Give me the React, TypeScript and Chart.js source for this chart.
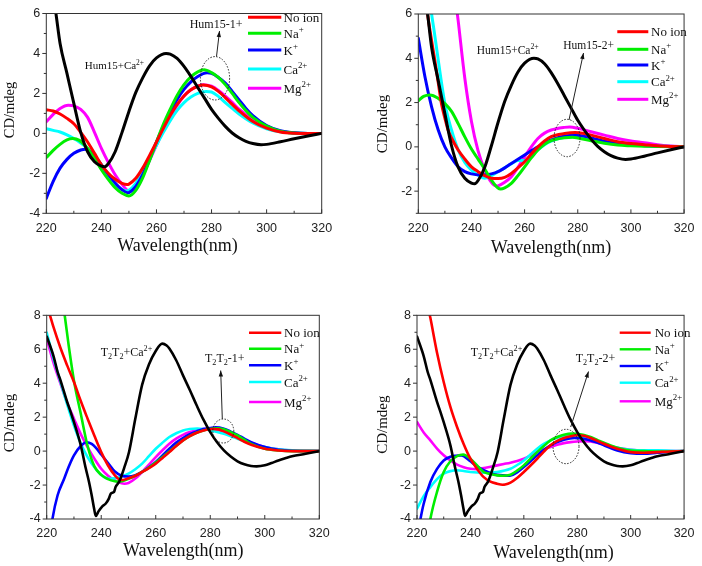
import React, { useEffect, useRef } from "react";
import { Chart, registerables } from "chart.js";

Chart.register(...registerables);

type Pt = [number, number];
type Seg = { t: string; m?: "sup" | "sub" };

// ---------- axis / legend constants ----------
const X_MIN = 220;
const X_MAX = 320;
const X_LABEL_STEP = 20;
const X_MINOR_STEP = 10;
const Y_LABEL_STEP = 2;
const Y_MINOR_STEP = 1;
const LEGEND_LABELS = ["No ion", "Na", "K", "Ca", "Mg"];
const LEGEND_SUPS = ["", "+", "+", "2+", "2+"];
const SERIES_COLORS = ["#ff0000", "#00ee00", "#0000ff", "#00ffff", "#ff00ff"];
const REF_COLOR = "#000000";
const X_TITLE = "Wavelength(nm)";
const Y_TITLE = "CD/mdeg";

// ---------- data: Hum15 (top panels) ----------
const HUM15_CA: Pt[] = [[220,9.5],[222,7.4],[223.5,6.0],[225,4.5],[227.5,3.0],[230,1.5],[232.5,0.05],[235,-0.92],[237.5,-1.42],[240,-1.64],[241.2,-1.67],[242.5,-1.52],[245,-0.92],[247.5,0.05],[250,1.1],[252.5,2.05],[255,2.78],[257.5,3.38],[260,3.78],[263.5,4.0],[265,3.97],[267.5,3.75],[270,3.35],[272.5,2.85],[275,2.3],[277.5,1.75],[280,1.2],[282.5,0.75],[285,0.35],[287.5,0.02],[290,-0.22],[292.5,-0.4],[295,-0.51],[298,-0.57],[300,-0.55],[305,-0.42],[310,-0.27],[315,-0.13],[320,0]];

const P1_NOION: Pt[] = [[220,1.18],[222.5,1.12],[225,0.97],[227.5,0.75],[230,0.48],[232.5,0.05],[235,-0.43],[237.5,-1.0],[240,-1.57],[242.5,-2.0],[245,-2.3],[247.5,-2.5],[249.3,-2.56],[250,-2.54],[252.5,-2.25],[255,-1.74],[257.5,-1.1],[260,-0.43],[262.5,0.25],[265,0.89],[267.5,1.45],[270,1.87],[272.5,2.18],[275,2.36],[277,2.42],[280,2.33],[282.5,2.1],[285,1.79],[287.5,1.45],[290,1.13],[295,0.59],[300,0.26],[305,0.07],[310,0.01],[315,0],[320,0]];
const P1_NA: Pt[] = [[220,-1.21],[222.5,-0.85],[225,-0.55],[227.5,-0.33],[229.5,-0.26],[232,-0.35],[235,-0.75],[237.5,-1.25],[240,-1.82],[242.5,-2.3],[245,-2.72],[247.5,-3.0],[250,-3.13],[252.5,-2.85],[255,-2.23],[257.5,-1.35],[260,-0.43],[262.5,0.45],[265,1.21],[267.5,1.9],[270,2.44],[272.5,2.83],[275,3.08],[277.3,3.18],[280,3.04],[282.5,2.8],[285,2.44],[287.5,2.0],[290,1.54],[292.5,1.14],[295,0.8],[300,0.36],[305,0.11],[310,0.02],[315,0],[320,0]];
const P1_K: Pt[] = [[220,-3.25],[222.5,-2.4],[225,-1.74],[227.5,-1.3],[230,-1.0],[232.5,-0.83],[234.2,-0.79],[236,-0.9],[238,-1.2],[240,-1.57],[242.5,-2.05],[245,-2.48],[247.5,-2.82],[249.5,-2.97],[250,-2.96],[252.5,-2.65],[255,-2.07],[257.5,-1.3],[260,-0.43],[262.5,0.35],[265,1.05],[267.5,1.7],[270,2.2],[272.5,2.58],[275,2.85],[278.4,3.03],[280,3.0],[282.5,2.8],[285,2.52],[287.5,2.1],[290,1.67],[292.5,1.25],[295,0.89],[300,0.39],[305,0.13],[310,0.03],[315,0],[320,0]];
const P1_CA: Pt[] = [[220,0.23],[222.5,0.15],[225,0.07],[227.5,-0.07],[230,-0.26],[232.5,-0.48],[235,-0.75],[237.5,-1.2],[240,-1.74],[242.5,-2.2],[245,-2.56],[247.5,-2.8],[249,-2.88],[250,-2.85],[252.5,-2.5],[255,-1.9],[257.5,-1.25],[260,-0.59],[262.5,0.05],[265,0.64],[267.5,1.15],[270,1.54],[272.5,1.82],[275,2.0],[278,2.1],[280,2.07],[282.5,1.85],[285,1.54],[287.5,1.25],[290,0.97],[295,0.52],[300,0.23],[305,0.08],[310,0.02],[315,0],[320,0]];
const P1_MG: Pt[] = [[220,0.59],[222.5,0.95],[225,1.25],[228,1.41],[230,1.38],[232.5,1.2],[235,0.8],[237.5,0.05],[240,-0.75],[242.5,-1.45],[245,-2.07],[247.5,-2.55],[250,-2.88],[252.5,-2.75],[255,-2.1],[257.5,-1.35],[260,-0.59],[262.5,0.15],[265,0.8],[267.5,1.4],[270,1.87],[272.5,2.18],[275,2.36],[277,2.44],[280,2.36],[282.5,2.15],[285,1.87],[287.5,1.55],[290,1.21],[295,0.69],[300,0.31],[305,0.1],[310,0.02],[315,0],[320,0]];

const P2_NOION: Pt[] = [[220,10],[222,7.6],[223.5,6.0],[225,4.8],[226.2,3.92],[227.5,2.9],[228.7,1.96],[230,1.3],[231.2,0.76],[232.5,0.4],[235,-0.14],[237.5,-0.55],[240,-0.9],[242.5,-1.12],[245,-1.3],[247.5,-1.42],[250,-1.43],[252.5,-1.38],[255,-1.2],[257.5,-0.95],[260,-0.67],[262.5,-0.32],[265,0.0],[267.5,0.27],[270,0.46],[275,0.6],[279,0.65],[282.5,0.6],[285,0.53],[290,0.38],[295,0.23],[300,0.15],[305,0.1],[310,0.05],[315,0.02],[320,0]];
const P2_NA: Pt[] = [[220,2.08],[222,2.28],[224.4,2.34],[227.5,2.19],[230,1.95],[232.5,1.6],[235,1.05],[237.5,0.45],[240,-0.1],[242.5,-0.55],[245,-1.0],[247.5,-1.5],[250,-1.86],[251,-1.9],[252.5,-1.85],[255,-1.65],[257.5,-1.3],[260,-0.9],[262.5,-0.5],[265,-0.14],[267.5,0.12],[270,0.28],[275,0.41],[278,0.43],[280,0.4],[285,0.28],[290,0.16],[295,0.08],[300,0.05],[305,0.03],[310,0.02],[320,0]];
const P2_K: Pt[] = [[220,4.9],[222.5,3.17],[225,1.81],[227.5,0.76],[230,0.0],[232.5,-0.5],[235,-0.9],[237.5,-1.12],[240,-1.22],[243,-1.27],[245,-1.26],[247.5,-1.22],[250,-1.12],[255,-0.75],[260,-0.37],[265,0.0],[270,0.31],[275,0.49],[279,0.53],[282.5,0.48],[285,0.4],[290,0.26],[295,0.15],[300,0.1],[310,0.03],[320,0]];
const P2_CA: Pt[] = [[220,11],[222.5,8.3],[225,6.0],[226,5.2],[227.5,3.92],[230,1.96],[232.5,0.76],[235,-0.14],[237.5,-0.7],[240,-1.05],[242.5,-1.28],[245,-1.42],[247.5,-1.3],[250,-1.12],[252.5,-0.95],[255,-0.76],[257.5,-0.62],[260,-0.62],[262.5,-0.42],[265,-0.14],[267.5,0.1],[270,0.26],[275,0.43],[279,0.46],[282.5,0.4],[285,0.34],[290,0.23],[295,0.15],[300,0.1],[310,0.04],[320,0]];
const P2_MG: Pt[] = [[220,24],[225,18],[230,11.5],[232.5,8.5],[234.7,6.0],[235,5.7],[237.5,3.1],[240,1.15],[242.5,-0.18],[245,-1.05],[247.5,-1.6],[249.5,-1.77],[250,-1.76],[252.5,-1.6],[255,-1.35],[257.5,-0.92],[260,-0.45],[262.5,0.0],[265,0.38],[267.5,0.62],[270,0.76],[275,0.88],[277,0.9],[280,0.84],[285,0.68],[290,0.53],[295,0.38],[300,0.27],[305,0.19],[310,0.1],[315,0.04],[320,0]];

// ---------- data: T2T2 (bottom panels) ----------
const T2T2_CA: Pt[] = [[220,6.75],[222.5,5.6],[224,4.66],[225,4.2],[227.5,2.9],[228.8,2.3],[230,1.7],[232.5,0.34],[234.3,-1.0],[235.5,-1.8],[236.5,-2.6],[237.4,-3.4],[238,-3.82],[239,-3.55],[240.4,-3.25],[241.6,-3.1],[242.8,-2.8],[243.5,-2.5],[244.7,-2.4],[245.3,-2.1],[246.6,-1.8],[248.4,-1.0],[250.2,-0.05],[252.5,1.9],[255,3.9],[257.5,5.1],[260,5.9],[262.4,6.33],[264,6.22],[265,6.04],[267.5,5.35],[270,4.46],[272.5,3.6],[275,2.7],[277.5,1.85],[280,1.12],[282.5,0.52],[285,0.04],[287.5,-0.32],[290,-0.6],[292.5,-0.78],[295,-0.88],[297,-0.9],[300,-0.84],[302.5,-0.7],[305,-0.55],[307.5,-0.42],[310,-0.3],[315,-0.16],[320,0]];

const P3_NOION: Pt[] = [[220,8.6],[221.2,8.0],[222.5,7.3],[225,6.1],[227.5,5.05],[230,4.07],[232.5,2.95],[235,1.91],[237.5,0.9],[240,-0.06],[242.5,-0.85],[245,-1.43],[246.5,-1.65],[248,-1.7],[250,-1.6],[252.5,-1.45],[255,-1.23],[257.5,-1.0],[260,-0.74],[262.5,-0.4],[265,-0.06],[267.5,0.3],[270,0.63],[272.5,0.88],[275,1.08],[277.5,1.22],[281,1.3],[283,1.28],[285,1.16],[287.5,0.98],[290,0.77],[292.5,0.55],[295,0.37],[300,0.14],[305,0.04],[310,0],[320,0]];
const P3_NA: Pt[] = [[220,15],[222.5,12.2],[225,9.7],[226.6,8.0],[228,6.3],[230,4.15],[232.5,2.2],[235,0.3],[237.5,-0.9],[240,-1.4],[242.5,-1.65],[245,-1.78],[246,-1.8],[247.5,-1.77],[250,-1.63],[252.5,-1.45],[255,-1.23],[257.5,-0.97],[260,-0.68],[262.5,-0.35],[265,-0.02],[267.5,0.32],[270,0.63],[272.5,0.88],[275,1.08],[277.5,1.22],[280,1.3],[282.6,1.34],[285,1.28],[287.5,1.12],[290,0.92],[292.5,0.67],[295,0.43],[300,0.14],[305,0.04],[310,0],[320,0]];
const P3_K: Pt[] = [[220,-6.5],[222.1,-4.0],[224,-2.6],[226.4,-1.63],[228,-0.95],[230,-0.25],[232.5,0.3],[234.7,0.52],[236.5,0.42],[238,0.2],[240,-0.2],[242.5,-0.7],[245,-1.2],[247.5,-1.45],[250,-1.5],[252.5,-1.42],[255,-1.23],[257.5,-0.95],[260,-0.64],[262.5,-0.25],[265,0.14],[267.5,0.5],[270,0.77],[272.5,1.0],[275,1.16],[277.5,1.3],[280,1.36],[282,1.4],[285,1.32],[287.5,1.15],[290,0.96],[292.5,0.74],[295,0.53],[300,0.24],[305,0.08],[310,0.02],[320,0]];
const P3_CA: Pt[] = [[220,6.98],[222.5,5.45],[225,4.1],[227.5,2.75],[230,1.5],[232.5,0.45],[235,-0.35],[237.5,-0.95],[240,-1.4],[242.9,-1.63],[245,-1.6],[247.5,-1.5],[250,-1.33],[252.5,-1.07],[255,-0.74],[257.5,-0.3],[260,0.14],[262.5,0.5],[265,0.83],[267.5,1.05],[270,1.22],[272.5,1.3],[275.3,1.33],[277.5,1.3],[280,1.22],[282.5,1.13],[285,1.02],[287.5,0.88],[290,0.73],[292.5,0.58],[295,0.43],[300,0.24],[305,0.1],[310,0.04],[320,0]];
const P3_MG: Pt[] = [[220,6.62],[222.5,5.2],[225,4.0],[227.5,2.85],[230,1.91],[232.5,1.0],[235,0.24],[237.5,-0.45],[240,-1.04],[242.5,-1.45],[245,-1.73],[247.5,-1.9],[248.5,-1.92],[250,-1.88],[252.5,-1.62],[255,-1.23],[257.5,-0.8],[260,-0.35],[262.5,0.05],[265,0.43],[267.5,0.73],[270,0.96],[272.5,1.12],[275,1.22],[278,1.32],[280,1.31],[282.5,1.25],[285,1.16],[287.5,1.0],[290,0.83],[292.5,0.66],[295,0.49],[300,0.24],[305,0.1],[310,0.03],[320,0]];

const P4_NOION: Pt[] = [[220,11.8],[222.5,9.8],[224.8,8.0],[225,7.85],[227.5,5.8],[230,4.07],[232.5,2.6],[235,1.42],[237.5,0.4],[240,-0.45],[242.5,-1.05],[245,-1.53],[247.5,-1.8],[250,-1.92],[252,-1.98],[253,-1.97],[255,-1.86],[257.5,-1.58],[260,-1.23],[262.5,-0.85],[265,-0.45],[267.5,-0.03],[270,0.34],[272.5,0.6],[275,0.77],[277.5,0.88],[280,0.93],[282.5,0.9],[285,0.77],[287.5,0.6],[290,0.43],[292.5,0.27],[295,0.14],[300,-0.06],[305,-0.1],[310,-0.06],[315,-0.02],[320,0]];
const P4_NA: Pt[] = [[220,-9.5],[222.5,-6.5],[225,-4.0],[227.5,-2.4],[230,-1.23],[232.5,-0.6],[235,-0.3],[237.3,-0.21],[240,-0.45],[242.5,-0.85],[245,-1.23],[247.5,-1.35],[250,-1.43],[252,-1.45],[255,-1.39],[257.5,-1.15],[260,-0.84],[262.5,-0.45],[265,-0.06],[267.5,0.3],[270,0.63],[272.5,0.83],[275,0.96],[278,1.03],[280,1.02],[282.5,0.95],[285,0.83],[287.5,0.66],[290,0.49],[292.5,0.33],[295,0.2],[300,0.04],[305,0],[310,-0.02],[320,0]];
const P4_K: Pt[] = [[220,-5.2],[221.3,-4.0],[222.5,-3.1],[225,-1.82],[227.5,-1.05],[230,-0.55],[232.5,-0.33],[234.5,-0.27],[236.6,-0.25],[238,-0.35],[240,-0.6],[242.5,-0.9],[245,-1.13],[247.5,-1.3],[250,-1.4],[254.4,-1.45],[255,-1.44],[257.5,-1.25],[260,-0.94],[262.5,-0.6],[265,-0.25],[267.5,0.08],[270,0.34],[272.5,0.53],[275,0.67],[279,0.77],[280,0.76],[282.5,0.72],[285,0.63],[287.5,0.5],[290,0.34],[292.5,0.18],[295,0.04],[300,-0.12],[305,-0.16],[310,-0.1],[315,-0.04],[320,0]];
const P4_CA: Pt[] = [[220,-3.39],[222.5,-2.65],[225,-2.12],[227.5,-1.65],[230,-1.33],[232.5,-1.18],[235,-1.13],[237.5,-1.17],[240,-1.23],[245,-1.27],[250,-1.23],[255,-1.04],[257.5,-0.82],[260,-0.55],[262.5,-0.2],[265,0.14],[267.5,0.42],[270,0.63],[272.5,0.78],[275,0.87],[277.6,0.89],[280,0.87],[282.5,0.8],[285,0.69],[287.5,0.56],[290,0.43],[292.5,0.3],[295,0.2],[300,0.08],[305,0.04],[310,0.04],[315,0.02],[320,0]];
const P4_MG: Pt[] = [[220,1.71],[222.5,1.1],[225,0.63],[227.5,0.15],[230,-0.25],[232.5,-0.55],[235,-0.8],[237.5,-0.95],[240,-1.04],[242.2,-1.06],[245,-1.0],[247.5,-0.92],[250,-0.84],[252.5,-0.76],[255,-0.68],[257.5,-0.58],[260,-0.45],[262.5,-0.27],[265,-0.06],[267.5,0.1],[270,0.24],[272.5,0.37],[275,0.47],[277.5,0.53],[280,0.57],[282.5,0.59],[285,0.57],[287.5,0.49],[290,0.39],[295,0.2],[300,0.08],[305,0.02],[310,0],[320,0]];

// ---------- annotation texts ----------
const HUM_CA_TEXT: Seg[] = [{ t: "Hum15+Ca" }, { t: "2+", m: "sup" }];
const HUM_1_TEXT: Seg[] = [{ t: "Hum15-1+" }];
const HUM_2_TEXT: Seg[] = [{ t: "Hum15-2+" }];
const T_CA_TEXT: Seg[] = [{ t: "T" }, { t: "2", m: "sub" }, { t: "T" }, { t: "2", m: "sub" }, { t: "+Ca" }, { t: "2+", m: "sup" }];
const T_1_TEXT: Seg[] = [{ t: "T" }, { t: "2", m: "sub" }, { t: "T" }, { t: "2", m: "sub" }, { t: "-1+" }];
const T_2_TEXT: Seg[] = [{ t: "T" }, { t: "2", m: "sub" }, { t: "T" }, { t: "2", m: "sub" }, { t: "-2+" }];

const SERIF = '"Liberation Serif", "Times New Roman", serif';
const SANS = '"Liberation Sans", Arial, sans-serif';

interface Spec {
  ox: number; oy: number; w: number; h: number;
  box: { l: number; r: number; t: number; b: number };
  ymin: number; ymax: number;
  lineW: number;
  ref: Pt[];
  series: Pt[][];
  yTitle: { x: number; y: number; size: number };
  xTitle: { x: number; y: number; size: number };
  legend: { x1: number; x2: number; tx: number; rows: number[]; size: number; lw: number };
  caText: { x: number; y: number; size: number; segs: Seg[] };
  tagText: { x: number; y: number; size: number; segs: Seg[] };
  ellipse: { cx: number; cy: number; rx: number; ry: number };
  arrow: [number, number, number, number];
}

const SPECS: Spec[] = [
  {
    ox: 0, oy: 0, w: 351, h: 283,
    box: { l: 46.3, r: 321.7, t: 9.3, b: 213.3 },
    ymin: -4, ymax: 6, lineW: 3,
    ref: HUM15_CA, series: [P1_NOION, P1_NA, P1_K, P1_CA, P1_MG],
    yTitle: { x: 10, y: 110, size: 14.5 },
    xTitle: { x: 177.5, y: 246.7, size: 18 },
    legend: { x1: 248, x2: 281.3, tx: 283.5, rows: [17.3, 33.3, 50, 69, 88.3], size: 13, lw: 3 },
    caText: { x: 84.7, y: 69.3, size: 11, segs: HUM_CA_TEXT },
    tagText: { x: 189.7, y: 28.3, size: 12, segs: HUM_1_TEXT },
    ellipse: { cx: 215, cy: 78.3, rx: 14.6, ry: 21.7 },
    arrow: [216.5, 56.5, 219.5, 31],
  },
  {
    ox: 351, oy: 0, w: 351, h: 283,
    box: { l: 418.3, r: 686, t: 14, b: 213.3 },
    ymin: -3, ymax: 6, lineW: 3,
    ref: HUM15_CA, series: [P2_NOION, P2_NA, P2_K, P2_CA, P2_MG],
    yTitle: { x: 382.7, y: 124, size: 15 },
    xTitle: { x: 551, y: 248, size: 18 },
    legend: { x1: 617.3, x2: 648.3, tx: 651, rows: [31.7, 49.3, 65, 81.7, 99.3], size: 13, lw: 3 },
    caText: { x: 476.7, y: 54, size: 11.5, segs: HUM_CA_TEXT },
    tagText: { x: 563.3, y: 49.3, size: 11.5, segs: HUM_2_TEXT },
    ellipse: { cx: 567, cy: 138, rx: 13, ry: 18.7 },
    arrow: [569, 120, 583.5, 53],
  },
  {
    ox: 0, oy: 283, w: 351, h: 283,
    box: { l: 46.7, r: 319.3, t: 315.3, b: 519 },
    ymin: -4, ymax: 8, lineW: 2.6,
    ref: T2T2_CA, series: [P3_NOION, P3_NA, P3_K, P3_CA, P3_MG],
    yTitle: { x: 10, y: 423, size: 15 },
    xTitle: { x: 183.3, y: 551, size: 18 },
    legend: { x1: 249, x2: 281.3, tx: 284, rows: [332.7, 348.7, 365.3, 382, 402], size: 13, lw: 2.4 },
    caText: { x: 100.7, y: 356.3, size: 12, segs: T_CA_TEXT },
    tagText: { x: 205, y: 362, size: 12, segs: T_1_TEXT },
    ellipse: { cx: 223.3, cy: 431, rx: 10.5, ry: 12 },
    arrow: [222.3, 419, 220.7, 370.5],
  },
  {
    ox: 351, oy: 283, w: 351, h: 283,
    box: { l: 417, r: 689.3, t: 315.3, b: 519 },
    ymin: -4, ymax: 8, lineW: 2.6,
    ref: T2T2_CA, series: [P4_NOION, P4_NA, P4_K, P4_CA, P4_MG],
    yTitle: { x: 382.7, y: 424.7, size: 15 },
    xTitle: { x: 553.5, y: 553, size: 18 },
    legend: { x1: 619.7, x2: 650.7, tx: 654.7, rows: [332.7, 349.3, 366, 382.7, 401.3], size: 13, lw: 2.4 },
    caText: { x: 470.7, y: 356.3, size: 12, segs: T_CA_TEXT },
    tagText: { x: 575.7, y: 362, size: 12, segs: T_2_TEXT },
    ellipse: { cx: 566, cy: 446.5, rx: 13, ry: 17.2 },
    arrow: [570.7, 427, 588.5, 371.5],
  },
];

function drawRich(ctx: CanvasRenderingContext2D, x: number, y: number, segs: Seg[], size: number) {
  let cx = x;
  ctx.textAlign = "left";
  ctx.textBaseline = "alphabetic";
  for (const s of segs) {
    const fs = s.m ? size * 0.68 : size;
    ctx.font = `${fs}px ${SERIF}`;
    const dy = s.m === "sup" ? -size * 0.42 : s.m === "sub" ? size * 0.22 : 0;
    ctx.fillText(s.t, cx, y + dy);
    cx += ctx.measureText(s.t).width;
  }
}

function makeDecor(sp: Spec) {
  return {
    id: "decor",
    afterDraw(chart: any) {
      const ctx: CanvasRenderingContext2D = chart.ctx;
      const a = chart.chartArea;
      const xs = chart.scales.x;
      const ys = chart.scales.y;
      const L = (v: number) => v - sp.ox;
      const T = (v: number) => v - sp.oy;
      ctx.save();
      // frame
      ctx.strokeStyle = "#333";
      ctx.lineWidth = 1;
      ctx.strokeRect(a.left, a.top, a.right - a.left, a.bottom - a.top);
      // x ticks (inward)
      ctx.beginPath();
      for (let v = X_MIN; v <= X_MAX; v += X_MINOR_STEP) {
        const px = xs.getPixelForValue(v);
        const len = v % X_LABEL_STEP === 0 ? 4 : 2.5;
        ctx.moveTo(px, a.bottom);
        ctx.lineTo(px, a.bottom - len);
      }
      // y ticks (outward)
      for (let v = sp.ymin; v <= sp.ymax; v += Y_MINOR_STEP) {
        const py = ys.getPixelForValue(v);
        const len = v % Y_LABEL_STEP === 0 ? 4 : 2.5;
        ctx.moveTo(a.left, py);
        ctx.lineTo(a.left - len, py);
      }
      ctx.stroke();

      ctx.fillStyle = "#111";
      // y title
      ctx.save();
      ctx.translate(L(sp.yTitle.x), T(sp.yTitle.y));
      ctx.rotate(-Math.PI / 2);
      ctx.font = `${sp.yTitle.size}px ${SERIF}`;
      ctx.textAlign = "center";
      ctx.textBaseline = "middle";
      ctx.fillText(Y_TITLE, 0, 0);
      ctx.restore();
      // x title
      ctx.font = `${sp.xTitle.size}px ${SERIF}`;
      ctx.textAlign = "center";
      ctx.textBaseline = "middle";
      ctx.fillText(X_TITLE, L(sp.xTitle.x), T(sp.xTitle.y));

      // legend
      const lg = sp.legend;
      LEGEND_LABELS.forEach((lab, i) => {
        const ry = T(lg.rows[i]);
        ctx.strokeStyle = SERIES_COLORS[i];
        ctx.lineWidth = lg.lw;
        ctx.beginPath();
        ctx.moveTo(L(lg.x1), ry);
        ctx.lineTo(L(lg.x2), ry);
        ctx.stroke();
        ctx.fillStyle = "#111";
        const segs: Seg[] = [{ t: lab }];
        if (LEGEND_SUPS[i]) segs.push({ t: LEGEND_SUPS[i], m: "sup" });
        drawRich(ctx, L(lg.tx), ry + 4.5, segs, lg.size);
      });

      // annotations
      ctx.fillStyle = "#111";
      drawRich(ctx, L(sp.caText.x), T(sp.caText.y), sp.caText.segs, sp.caText.size);
      drawRich(ctx, L(sp.tagText.x), T(sp.tagText.y), sp.tagText.segs, sp.tagText.size);

      // dotted ellipse
      ctx.strokeStyle = "#222";
      ctx.lineWidth = 1;
      ctx.setLineDash([1.5, 1.5]);
      ctx.beginPath();
      ctx.ellipse(L(sp.ellipse.cx), T(sp.ellipse.cy), sp.ellipse.rx, sp.ellipse.ry, 0, 0, Math.PI * 2);
      ctx.stroke();
      ctx.setLineDash([]);

      // arrow
      const [x1, y1, x2, y2] = sp.arrow;
      const ax1 = L(x1), ay1 = T(y1), ax2 = L(x2), ay2 = T(y2);
      ctx.beginPath();
      ctx.moveTo(ax1, ay1);
      ctx.lineTo(ax2, ay2);
      ctx.stroke();
      const ang = Math.atan2(ay2 - ay1, ax2 - ax1);
      const hl = 6, hw = 2.2;
      ctx.fillStyle = "#111";
      ctx.beginPath();
      ctx.moveTo(ax2, ay2);
      ctx.lineTo(ax2 - hl * Math.cos(ang) + hw * Math.sin(ang), ay2 - hl * Math.sin(ang) - hw * Math.cos(ang));
      ctx.lineTo(ax2 - hl * Math.cos(ang) - hw * Math.sin(ang), ay2 - hl * Math.sin(ang) + hw * Math.cos(ang));
      ctx.closePath();
      ctx.fill();
      ctx.restore();
    },
  };
}

function Panel({ sp }: { sp: Spec }) {
  const ref = useRef<HTMLCanvasElement | null>(null);
  useEffect(() => {
    const canvas = ref.current;
    if (!canvas) return;
    const left = sp.box.l - sp.ox;
    const right = sp.box.r - sp.ox;
    const top = sp.box.t - sp.oy;
    const bottom = sp.box.b - sp.oy;
    const toXY = (arr: Pt[]) => arr.map(([x, y]) => ({ x, y }));
    const datasets: any[] = [
      {
        label: "ref",
        data: toXY(sp.ref),
        borderColor: REF_COLOR,
        borderWidth: sp.lineW,
      },
      ...sp.series.map((s, i) => ({
        label: LEGEND_LABELS[i] + LEGEND_SUPS[i],
        data: toXY(s),
        borderColor: SERIES_COLORS[i],
        borderWidth: sp.lineW,
      })),
    ].map((d) => ({
      ...d,
      fill: false,
      pointRadius: 0,
      cubicInterpolationMode: "monotone",
      clip: 0,
    }));
    const tickFont = { family: SANS, size: 12.5 };
    const chart = new Chart(canvas, {
      type: "line",
      data: { datasets },
      options: {
        animation: false,
        responsive: false,
        maintainAspectRatio: false,
        events: [],
        layout: { padding: { left: 0, top, right: sp.w - right, bottom: 0 } },
        plugins: { legend: { display: false }, tooltip: { enabled: false } },
        elements: { line: { capBezierPoints: false, borderJoinStyle: "round", borderCapStyle: "round" } },
        scales: {
          x: {
            type: "linear",
            min: X_MIN,
            max: X_MAX,
            grid: { display: false, drawTicks: false, tickLength: 0 },
            border: { display: false },
            ticks: { stepSize: X_LABEL_STEP, autoSkip: false, maxRotation: 0, minRotation: 0, padding: 7.5, color: "#222", font: tickFont },
            afterFit: (s: any) => { s.height = sp.h - bottom; },
          },
          y: {
            type: "linear",
            min: sp.ymin,
            max: sp.ymax,
            grid: { display: false, drawTicks: false, tickLength: 0 },
            border: { display: false },
            ticks: {
              stepSize: Y_LABEL_STEP,
              includeBounds: false,
              padding: 6,
              color: "#222",
              font: tickFont,
              callback: (v: any) => (Number(v) % Y_LABEL_STEP === 0 ? String(v) : ""),
            },
            afterFit: (s: any) => { s.width = left; },
          },
        },
      } as any,
      plugins: [makeDecor(sp)],
    });
    return () => chart.destroy();
  }, [sp]);
  return (
    <canvas
      ref={ref}
      width={sp.w}
      height={sp.h}
      style={{ position: "absolute", left: sp.ox, top: sp.oy, width: sp.w, height: sp.h }}
    />
  );
}

export default function App() {
  return (
    <div style={{ position: "absolute", left: 0, top: 0, width: 702, height: 566, background: "#fff" }}>
      {SPECS.map((sp, i) => (
        <Panel key={i} sp={sp} />
      ))}
    </div>
  );
}
